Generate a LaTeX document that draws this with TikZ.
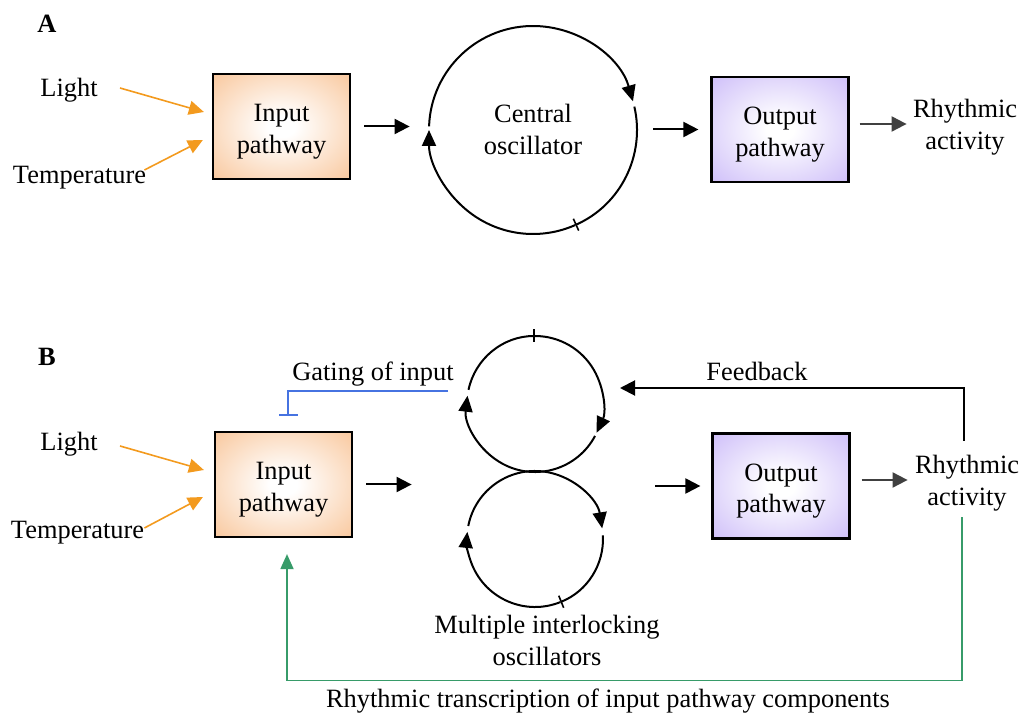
\documentclass[tikz,border=0pt]{standalone}
\usepackage{fontspec}
\setmainfont{Liberation Serif}
\usetikzlibrary{positioning,arrows.meta}

\definecolor{inorange}{RGB}{248,192,144}
\definecolor{outviolet}{RGB}{200,182,248}
\definecolor{lightorange}{RGB}{243,154,30}
\definecolor{gateblue}{RGB}{70,115,225}
\definecolor{transgreen}{RGB}{55,155,105}
\definecolor{outgray}{RGB}{64,64,64}

\pgfdeclareradialshading{inglow}{\pgfpointorigin}{color(0bp)=(white); color(5bp)=(white); color(40bp)=(inorange); color(100bp)=(inorange)}
\pgfdeclareradialshading{outglow}{\pgfpointorigin}{color(0bp)=(white); color(5bp)=(white); color(40bp)=(outviolet); color(100bp)=(outviolet)}

\begin{document}
\begin{tikzpicture}[x=0.5pt,y=0.5pt,
  every node/.style={font=\fontsize{13.2}{16}\selectfont},
  lbl/.style={inner sep=0pt, align=center},
  panel/.style={inner sep=0pt, font=\fontsize{13.2}{16}\selectfont\bfseries},
  inbox/.style={draw, line width=1.1pt, shade, shading=inglow, minimum width=68.5pt, minimum height=52.5pt, align=center, inner sep=0pt, text height=30pt, text depth=3pt},
  outbox/.style={inbox, shading=outglow},
  ring/.style={circle, inner sep=0pt, align=center},
  flow/.style={line width=1pt, -{Triangle[length=7.5pt,width=7.5pt]}},
  cue/.style={line width=0.8pt, lightorange, -{Triangle[length=7.5pt,width=7pt]}},
  outflow/.style={line width=1pt, outgray, -{Triangle[length=7.5pt,width=7.5pt]}},
  osc/.style={line width=1pt, -{Triangle[length=8pt,width=7pt]}},
  oscbar/.style={line width=1pt, -{Bar[width=6.5pt,line width=0.8pt]}},
  gate/.style={line width=0.9pt, gateblue, -{Bar[width=9.5pt]}},
  trans/.style={line width=0.9pt, transgreen, -{Triangle[length=7.5pt,width=6.5pt]}}]
  \useasboundingbox (0,0) rectangle (1023,713);

  %Define nodes (A)
  \node[panel] (labA) at (47,689) {A};
  \node[lbl] (lightA) at (69,623) {Light};
  \node[lbl] (tempA) at (79.5,535) {Temperature};
  \node[inbox] (inA) at (281.5,586.5) {Input\\pathway};
  \node[ring, minimum size=104pt, text height=28pt, text depth=3pt] (osc) at (533,583) {Central\\oscillator};
  \node[outbox] (outA) at (780,583.5) {Output\\pathway};
  \node[lbl, right=31.5pt of outA, yshift=1.25pt] (rhyA) {Rhythmic\\activity};

  % Connect the nodes (A)
  \draw[cue] ([xshift=11pt,yshift=1pt]lightA.east) -- ([xshift=-4pt,yshift=7.25pt]inA.west);
  \draw[cue] ([xshift=-1pt,yshift=4pt]tempA.east) -- ([xshift=-4.5pt,yshift=-6.75pt]inA.west);
  \draw[flow, shorten <=6.5pt, shorten >=9.5pt] (inA.east) -- (inA.east -| osc.west);
  \draw[flow, shorten <=8pt, shorten >=6pt] (outA.west -| osc.east) -- (outA.west);
  \draw[outflow, shorten <=5pt, shorten >=3pt] ([yshift=1.5pt]rhyA.west -| outA.east) -- ([yshift=1.5pt]rhyA.west);

  % Central oscillator
  \draw[osc] ([shift={(178:52pt)}]osc.center) arc[start angle=178, end angle=16, radius=52pt];
  \draw[oscbar] ([shift={(13:52pt)}]osc.center) arc[start angle=13, end angle=-66, radius=52pt];
  \draw[osc] ([shift={(-66:52pt)}]osc.center) arc[start angle=-66, end angle=-180, radius=52pt];

  %Define nodes (B)
  \node[panel] (labB) at (47,356) {B};
  \node[lbl] (lightB) at (69,269) {Light};
  \node[lbl] (tempB) at (77.5,180) {Temperature};
  \node[inbox] (inB) at (283.5,228.5) {Input\\pathway};
  \node[ring, minimum size=68pt] (oscU) at (535,309) {};
  \node[ring, minimum size=68pt] (oscL) at (535,174) {};
  \node[lbl, below=3.5pt of oscL, xshift=6pt] (multi) {Multiple interlocking\\oscillators};
  \node[outbox] (outB) at (781,227) {Output\\pathway};
  \node[lbl, right=32pt of outB, yshift=1.5pt] (rhyB) {Rhythmic\\activity};
  \node[lbl] (fbtxt) at (757,342) {Feedback};
  \node[lbl] (gatetxt) at (373,338.5) {Gating of input};
  \node[lbl] (transtxt) at (608,11.5) {Rhythmic transcription of input pathway components};
  \coordinate (fbin) at (620,325);
  \coordinate (gatein) at (448,322);

  % Connect the nodes (B)
  \draw[cue] ([xshift=11pt,yshift=-1pt]lightB.east) -- ([xshift=-5pt,yshift=7.25pt]inB.west);
  \draw[cue] ([yshift=2.5pt]tempB.east) -- ([xshift=-5.5pt,yshift=-6.25pt]inB.west);
  \draw[flow, shorten <=6.5pt, shorten >=27.5pt] (inB.east) -- (inB.east -| oscU.west);
  \draw[flow, shorten <=26pt, shorten >=5.5pt] (outB.west -| oscU.east) -- (outB.west);
  \draw[outflow, shorten <=5.5pt, shorten >=3.5pt] ([yshift=1.5pt]rhyB.west -| outB.east) -- ([yshift=1.5pt]rhyB.west);
  \draw[flow] ([xshift=-1.5pt,yshift=7pt]rhyB.north) |- (fbin);
  \draw[gate] (gatein) -| ([xshift=2.25pt,yshift=7.5pt]inB.north);
  \draw[trans] ([xshift=-2.5pt,yshift=-3pt]rhyB.south) -- ++(0,-163) -| ([xshift=1.75pt,yshift=-8pt]inB.south);

  % Interlocking oscillators
  \draw[osc] ([shift={(90:34pt)}]oscU.center) arc[start angle=90, end angle=-25, radius=34pt];
  \draw[osc] ([shift={(-28:34pt)}]oscU.center) arc[start angle=-28, end angle=-187, radius=34pt];
  \draw[oscbar] ([shift={(168:34pt)}]oscU.center) arc[start angle=168, end angle=90, radius=34pt];
  \draw[osc] ([shift={(169:34pt)}]oscL.center) arc[start angle=169, end angle=9, radius=34pt];
  \draw[oscbar] ([shift={(3:34pt)}]oscL.center) arc[start angle=3, end angle=-68, radius=34pt];
  \draw[osc] ([shift={(-68:34pt)}]oscL.center) arc[start angle=-68, end angle=-186, radius=34pt];

\end{tikzpicture}
\end{document}
